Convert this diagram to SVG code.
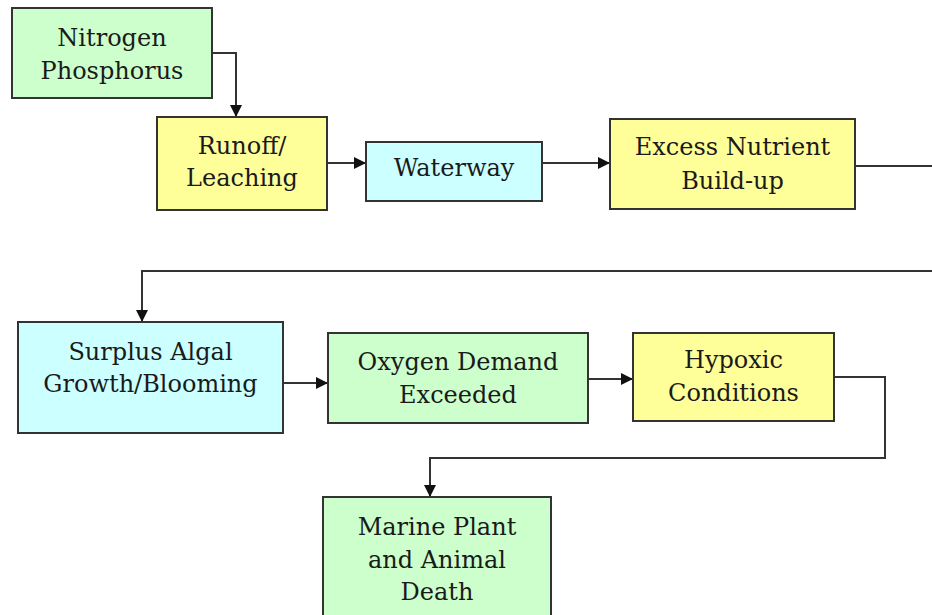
<svg xmlns="http://www.w3.org/2000/svg" width="932" height="615" viewBox="0 0 932 615">
<style>
.box{stroke:#333;stroke-width:2}
.g{fill:#CCFFCC}.y{fill:#FFFF99}.c{fill:#CCFFFF}
text{font-family:'DejaVu Serif',serif;font-size:24px;fill:#1a1a1a;text-anchor:middle}
.conn{fill:none;stroke:#333;stroke-width:2}
</style>
<defs>
<marker id="arr" viewBox="0 0 12 12" refX="12" refY="6" markerWidth="12" markerHeight="12" markerUnits="userSpaceOnUse" orient="auto">
<path d="M0,0 L12,6 L0,12 z" fill="#111"/>
</marker>
</defs>
<rect width="932" height="615" fill="#fff"/>
<g id="connectors">
<path class="conn" d="M212,53 H236 V117" marker-end="url(#arr)"/>
<path class="conn" d="M327,163 H366" marker-end="url(#arr)"/>
<path class="conn" d="M542,163 H610" marker-end="url(#arr)"/>
<path class="conn" d="M855,166 H945 V271 H142 V322" marker-end="url(#arr)"/>
<path class="conn" d="M283,383 H328" marker-end="url(#arr)"/>
<path class="conn" d="M588,379 H633" marker-end="url(#arr)"/>
<path class="conn" d="M834,377 H885 V458 H430 V497" marker-end="url(#arr)"/>
</g>
<g id="nitrogen">
<rect class="box g" x="12" y="8" width="200" height="90"/>
<text x="112" y="46">Nitrogen</text>
<text x="112" y="79">Phosphorus</text>
</g>
<g id="runoff">
<rect class="box y" x="157" y="117" width="170" height="93"/>
<text x="242" y="154">Runoff/</text>
<text x="242" y="186">Leaching</text>
</g>
<g id="waterway">
<rect class="box c" x="366" y="142" width="176" height="59"/>
<text x="454" y="176">Waterway</text>
</g>
<g id="excess">
<rect class="box y" x="610" y="119" width="245" height="90"/>
<text x="732.5" y="155">Excess Nutrient</text>
<text x="732.5" y="189">Build-up</text>
</g>
<g id="surplus">
<rect class="box c" x="18" y="322" width="265" height="111"/>
<text x="150.5" y="360">Surplus Algal</text>
<text x="150.5" y="392">Growth/Blooming</text>
</g>
<g id="oxygen">
<rect class="box g" x="328" y="333" width="260" height="90"/>
<text x="458" y="370">Oxygen Demand</text>
<text x="458" y="403">Exceeded</text>
</g>
<g id="hypoxic">
<rect class="box y" x="633" y="333" width="201" height="88"/>
<text x="733.5" y="368">Hypoxic</text>
<text x="733.5" y="401">Conditions</text>
</g>
<g id="marine">
<rect class="box g" x="323" y="497" width="228" height="130"/>
<text x="437" y="535">Marine Plant</text>
<text x="437" y="568">and Animal</text>
<text x="437" y="600">Death</text>
</g>
</svg>
